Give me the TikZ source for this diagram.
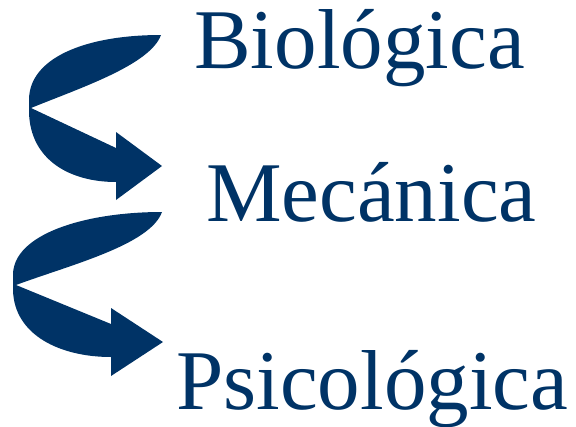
\documentclass[tikz,border=0pt]{standalone}
\usepackage{fontspec}
\setmainfont{Liberation Serif}
\definecolor{navy}{RGB}{0,51,102}
\tikzset{
  spiral/.style={fill=navy, draw=none},
  label/.style={anchor=base west, inner sep=0pt, text=navy, font=\fontsize{85}{90}\selectfont}
}
\begin{document}
\begin{tikzpicture}[x=1pt,y=-1pt]
\useasboundingbox (0,0) rectangle (576,426);
% first curved arrow
\path[spiral] (161,35) .. controls (85,35) and (29,58) .. (29,100)
  -- (29,112) .. controls (30,160) and (70,182) .. (116,182)
  -- (116,200) -- (162,166) -- (116,132) -- (116,148)
  -- (31,108) .. controls (80,88) and (150,65) .. (161,35) -- cycle;
% second curved arrow
\path[spiral] (162,212) .. controls (85,212) and (13,234) .. (13,275)
  -- (13,290) .. controls (14,335) and (60,357) .. (111,357)
  -- (111,376) -- (163,342) -- (111,308) -- (111,324)
  -- (16,285) .. controls (70,265) and (150,245) .. (162,212) -- cycle;
\node[label] (bio) at (194,68) {Biológica};
\node[label] (mec) at (206,221) {Mecánica};
\node[label] (psi) at (176,409) {Psicológica};
\end{tikzpicture}
\end{document}
